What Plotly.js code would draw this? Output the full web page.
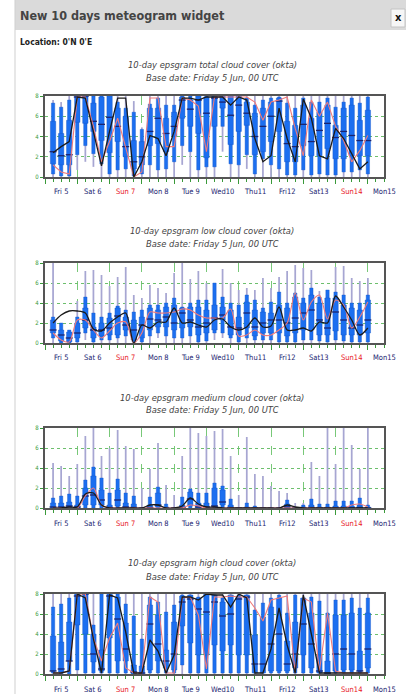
<!DOCTYPE html>
<html>
<head>
<meta charset="utf-8">
<script src="https://cdn.plot.ly/plotly-3.0.1.min.js"></script>
<style>
  html, body { margin: 0; padding: 0; background: #ffffff; }
  #chart { width: 406px; height: 694px; }
</style>
</head>
<body>
<div id="chart"></div>
<script>
// ---------- time axis ----------
const stepHours = [6,12,18,24,30,36,42,48,54,60,66,72,78,84,90,96,102,108,114,120,
                   126,132,138,144,150,156,162,168,174,180,186,192,198,204,210,216,222,228,234,240];
const dayBounds = [0,24,48,72,96,120,144,168,192,216,240];
const dayNoon = [12,36,60,84,108,132,156,180,204,228,252];
const dayLabels = ['Fri 5','Sat 6','Sun 7','Mon 8','Tue 9','Wed10','Thu11','Fri12','Sat13','Sun14','Mon15'];
const sundays = ['Sun 7','Sun14'];

const panelTitles = [
  '10-day epsgram total cloud cover (okta)',
  '10-day epsgram low cloud cover (okta)',
  '10-day epsgram medium cloud cover (okta)',
  '10-day epsgram high cloud cover (okta)'
];
const baseDate = 'Base date: Friday 5 Jun, 00 UTC';
const headerTitle = 'New 10 days meteogram widget';
const locationText = "Location: 0'N 0'E";

// ---------- total cloud cover ----------
const totLo  = [0,0,0,0.7,1.5,1.0,0,0,0,0, 0,0,0,0,0,0,1.2,0,0,0, 0,2.5,0,0,0.8,0,0,0,0,0, 0,0,0,0,0,0,0,0,0,0];
const totP10 = [0.3,0.1,0.1,2.2,3.1,2.3,1.3,0.3,0.7,0.8, 0.1,0.3,1.2,0.7,0.8,1.5,3.1,2.5,0.7,1.0, 1.0,5.0,1.3,1.2,2.2,0.3,1.8,1.2,0.8,0.2, 0.2,0.7,0.2,0.3,0.2,0.2,0.5,0.5,0.7,0.3];
const totP25 = [1.3,1.2,1.2,5.4,5.3,4.5,3.6,2.4,3.5,2.0, 0.8,1.2,3.1,3.3,2.5,4.0,5.8,5.0,4.3,1.9, 5.0,6.8,3.2,4.5,5.1,2.2,2.5,3.5,4.5,1.5, 1.5,3.1,2.1,2.1,2.8,1.8,1.8,2.1,2.1,2.1];
const totMed = [2.5,2.1,2.2,7.9,8.0,5.5,5.2,5.9,5.0,3.0, 1.5,2.0,4.5,5.8,4.3,5.0,7.6,6.7,7.6,6.3, 7.8,7.4,6.1,7.1,6.3,4.0,5.0,6.0,7.5,3.3, 3.0,5.2,3.5,4.6,5.3,3.9,4.5,4.1,3.6,3.6];
const totP75 = [5.5,4.3,5.6,8.0,8.0,7.3,7.9,8.0,6.8,6.0, 3.6,3.5,6.8,6.8,5.8,6.4,7.9,7.6,8.0,7.9, 8.0,8.0,8.0,8.0,7.4,6.3,6.8,7.4,7.8,5.5, 5.1,7.1,5.8,6.4,7.1,5.1,6.8,7.1,5.6,6.6];
const totP90 = [7.3,6.9,7.6,8.0,8.0,8.0,8.0,8.0,7.4,6.8, 6.4,4.7,7.2,7.8,7.1,7.1,8.0,8.0,8.0,8.0, 8.0,8.0,8.0,8.0,7.8,7.1,7.6,7.8,7.9,7.3, 6.8,7.8,7.4,7.4,7.8,6.9,7.4,7.8,7.3,7.9];
const totHi  = [7.6,7.4,8,8,8,8,8,8,8,8, 7.5,4.9,8,8,8,8,8,8,8,8, 8,8,8,8,8,8,8,8,8,8, 8,8,8,8,8,8,8,8,8,8];
const totCtrl= [2.4,3.0,3.5,7.9,7.8,4.5,1.1,4.5,7.8,7.8, 0.0,1.5,4.1,3.8,2.1,4.5,7.8,7.8,7.6,7.9, 7.9,7.9,7.1,7.9,7.6,3.8,1.5,2.1,6.8,3.8, 1.5,7.7,5.8,2.1,1.8,4.8,3.8,2.3,0.8,1.5];
const totHres= [1.2,0.5,0.3,7.9,7.9,5.0,1.5,3.5,5.8,2.8, 0.0,0.5,7.8,7.8,3.0,3.0,7.8,7.6,7.0,2.5, 7.9,7.9,7.9,7.9,7.9,7.4,5.6,7.4,7.6,7.9, 4.8,2.1,7.6,6.0,7.4,5.0,3.6,1.5,2.6,4.1];

// ---------- low cloud cover ----------
const lowLo  = [0,0,0,0,0.3,0,0,0,0,0, 0,0,0,0.5,0,0,0,0,0,0, 0.3,0.5,0,0,0,0,0,0,0,0, 0,0,0,0,0,0,0,0,0,0];
const lowP10 = [0.5,0,0,0.1,1.0,0.1,0.3,0.3,0.5,0.7, 0.1,0.1,0.7,1.0,0.7,0.5,0.5,0.7,0.1,0.2, 1.0,1.0,0.5,0.1,0.5,0.3,0.3,0.3,0.1,0.1, 0.1,0.3,0.3,0.2,0.1,0.3,0.2,0.1,0.1,0.1];
const lowP25 = [1.0,0.2,0.1,0.5,1.5,0.5,0.7,0.8,0.8,1.3, 0.3,0.5,1.3,1.6,1.6,1.3,1.5,1.6,0.8,1.0, 1.3,2.3,0.8,0.8,1.5,0.7,1.0,1.0,1.0,0.7, 1.0,1.3,1.3,0.8,0.8,1.2,0.8,0.8,0.8,1.0];
const lowMed = [1.3,0.8,0.5,1.0,2.3,1.3,1.3,1.5,2.7,1.8, 1.3,1.8,2.4,2.3,2.6,2.0,3.0,2.3,1.6,2.0, 2.5,2.8,1.6,1.5,3.0,1.6,2.0,2.3,2.3,2.0, 2.5,3.0,3.3,2.3,1.5,3.1,2.3,1.5,1.8,2.3];
const lowP75 = [2.3,1.3,1.1,2.0,3.5,1.6,2.0,2.5,3.5,2.6, 2.3,2.6,3.5,3.3,3.6,3.8,3.5,3.6,3.6,3.3, 3.8,3.6,3.3,2.6,4.1,3.3,3.1,3.0,3.8,3.5, 4.6,4.0,4.8,4.0,4.5,4.5,3.8,3.5,3.3,4.3];
const lowP90 = [2.6,2.0,1.3,2.6,4.6,3.0,2.6,3.0,3.7,3.3, 3.1,3.3,3.8,3.8,4.0,4.5,3.6,4.0,4.3,4.3, 6.0,4.6,4.0,3.8,4.8,4.3,3.5,4.1,5.1,4.0, 5.0,4.5,5.5,4.6,5.3,5.1,4.8,4.0,4.0,4.8];
const lowHi  = [8.0,2.0,1.3,4.2,7.2,7.3,6.8,5.7,6.6,7.6, 4.8,4.5,5.8,5.5,5.0,7.0,8.0,6.4,7.2,6.0, 6.0,7.4,6.0,5.3,5.5,5.3,6.5,5.5,6.6,7.2, 7.8,7.5,7.3,5.2,5.3,7.6,7.7,6.5,6.2,6.5];
const lowCtrl= [2.0,2.8,3.2,3.2,3.0,1.4,1.2,2.0,2.6,3.0, 0.0,1.8,1.5,2.1,2.1,3.5,2.0,2.1,1.8,1.6, 2.3,2.4,1.6,1.3,1.6,2.5,1.6,1.7,3.6,1.3, 1.3,1.5,1.2,2.1,2.0,4.7,3.6,2.3,0.8,1.5];
const lowHres= [1.0,0.3,0.1,2.3,2.3,1.3,0.5,1.2,2.0,2.1, 0.0,1.0,3.1,3.0,3.0,3.1,3.4,3.3,2.8,2.5, 2.5,2.5,3.4,0.7,0.8,1.3,0.8,0.8,1.3,2.0, 5.0,2.3,4.1,4.8,2.4,4.3,3.8,1.5,2.6,4.1];

// ---------- medium cloud cover ----------
const medLo  = [0,0,0,0,0,0,0,0,0,0, 0,0,0,0,0,0,0,0,0,0, 0,0,0,0,0,0,0,0,0,0, 0,0,0,0,0,0,0,0,0,0];
const medP10 = [0,0,0,0,0,0,0,0,0,0, 0,0,0,0,0,0,0,0,0,0, 0,0,0,0,0,0,0,0,0,0, 0,0,0,0,0,0,0,0,0,0];
const medP25 = [0,0,0,0,0.3,0.3,0.3,0,0.2,0, 0,0,0,0.1,0,0,0,0.2,0,0, 0.1,0.3,0,0,0,0,0,0,0,0, 0,0,0,0,0,0,0,0,0,0];
const medMed = [0.1,0.1,0.2,0.1,1.2,1.3,0.8,0.05,0.8,0.1, 0.05,0,0.05,0.3,0,0,0.05,0.9,0.1,0.1, 0.2,0.6,0.05,0,0,0,0,0,0,0.1, 0,0,0.05,0,0,0,0,0,0.05,0];
const medP75 = [0.5,0.5,0.6,0.3,2.0,3.2,1.8,0.3,1.8,0.5, 0.4,0,0.3,1.5,0.1,0,0.3,1.6,0.5,0.5, 2.0,1.8,0.3,0,0.1,0,0,0,0,0.4, 0,0.1,0.3,0.1,0.1,0.2,0.2,0.2,0.3,0.1];
const medP90 = [1.0,1.2,1.4,1.2,2.8,4.1,3.0,1.5,2.9,1.5, 1.2,0.05,1.1,2.1,0.4,0.05,1.1,1.9,1.5,1.5, 2.5,2.2,0.9,0.05,0.5,0.2,0.05,0.05,0.05,0.8, 0.05,0.3,0.9,0.4,0.4,0.7,0.7,0.7,1.0,0.3];
const medHi  = [4.5,4.2,3.2,4.4,7.2,8.0,5.2,6.0,7.8,6.2, 5.9,2.0,3.9,6.5,2.3,1.3,5.2,8.0,7.5,7.2, 7.7,7.9,5.2,1.3,7.1,3.4,3.2,2.2,1.7,1.5, 0.5,0.5,4.6,3.2,8.0,4.4,8.0,6.3,3.9,8.0];
const medCtrl= [0,0,0.1,0.1,1.4,1.5,0.3,0,0,0, 0,0,0.3,0.3,0,0,0.2,1.0,0.4,0.1, 0.1,0,0,0,0,0,0,0,0,0.3, 0.1,0,0,0,0,0,0,0,0,0];
const medHres= [0,0,0,0,1.2,2.0,0.3,0,0,0, 0,0,0,0,0,0,0,0.3,0.2,0, 0,0,0,0,0,0,0,0,0,0, 0,0,0,0,0,0,0,0.3,0.4,0.1];

// ---------- high cloud cover ----------
const higLo  = [0,0,0,0,0,0,0,0,0,0, 0,0,0,0,0,0,0,0,0,0, 0,0,0,0,0,0,0,0,0,0, 0,0,0,0,0,0,0,0,0,0];
const higP10 = [0.1,0,0,0.4,0.1,0.1,0.1,0.1,0.1,0.1, 0,0,0.1,0.1,0.1,0.1,0.9,0.1,0.1,0.1, 0.1,0.1,0.1,0.1,0.1,0.1,0.1,0.1,0.1,0.1, 0.1,0.1,0.1,0.1,0.1,0.1,0.1,0.1,0.1,0.1];
const higP25 = [0.3,0.2,1.3,4.9,4.0,1.2,0.3,3.6,1.3,1.3, 0,0,0.4,1.3,0.6,0.4,4.8,3.1,1.9,1.9, 2.9,2.3,2.9,1.9,1.9,0.1,0.1,0.3,0.3,0.3, 0.6,1.9,0.6,0.1,0,0.3,0.4,0.4,0.3,0.6];
const higMed = [0.3,0.5,1.3,7.8,8.0,2.0,0.5,7.8,5.5,2.5, 0.2,0.1,5.0,3.0,1.3,2.0,7.2,7.5,6.5,6.2, 7.2,5.8,6.0,7.5,7.7,1.0,1.0,3.0,4.0,1.0, 2.0,5.0,3.0,0.3,0.1,2.0,2.5,2.0,0.3,2.5];
const higP75 = [3.8,3.2,5.2,8.0,8.0,4.0,2.4,8.0,7.7,5.1, 0.9,0.8,6.9,5.9,2.4,5.2,7.8,7.9,7.6,8.0, 7.9,7.2,7.9,7.7,7.9,3.9,5.7,6.7,7.6,3.3, 5.2,7.6,6.1,1.9,1.3,5.9,5.9,6.1,2.3,6.1];
const higP90 = [6.7,7.0,7.6,8.0,8.0,4.9,8.0,8.0,8.0,7.0, 5.8,3.5,7.7,7.2,6.2,6.9,7.9,7.9,7.7,8.0, 7.9,7.6,7.9,7.9,7.9,6.4,7.1,7.6,7.9,6.1, 7.9,7.6,7.7,7.3,6.1,7.4,7.4,7.6,6.6,7.6];
const higHi  = [8,8,8,8,8,8,8,8,8,8, 8,8,8,8,8,8,8,8,8,8, 8,8,8,8,8,8,8,8,8,8, 8,8,8,8,8,8,8,8,8,8];
const higCtrl= [0.1,0.1,0.3,8.0,7.6,3.5,0.1,7.9,7.6,4.2, 0.1,0.1,3.4,2.3,0.1,1.9,7.7,7.7,7.4,8.0, 7.9,7.9,6.7,8.0,7.6,0.1,0.1,2.5,6.6,2.9, 0.1,7.9,4.0,0.1,0.1,0.1,0.1,0.1,0.1,0.1];
const higHres= [0.1,0.1,0.3,8.0,8.0,3.6,1.3,3.6,5.1,0.6, 0.1,0.1,7.7,7.2,0.1,0.1,7.6,7.7,5.9,0.5, 7.7,7.7,7.8,7.7,7.7,6.6,5.3,7.4,7.6,7.8, 0.1,7.6,7.2,0.3,6.1,0.3,0.1,0.1,0.1,0.1];

// ---------- styling ----------
const W = 406, H = 694;
const GREEN = '#3a9a3a';
const GRID_H = '#6dbf6d';
const GRID_V = '#78c878';
const BLUE = '#1c6ff0';
const BLUE_EDGE = '#1357c8';
const WHISK = '#a7a6d2';
const NAVY = '#1a2470';
const FONT = '"DejaVu Sans Condensed", "Liberation Sans", sans-serif';

const panels = [
  {lo: totLo, p10: totP10, p25: totP25, med: totMed, p75: totP75, p90: totP90, hi: totHi, ctrl: totCtrl, hres: totHres, shape: 'linear', top: 96, bot: 177, t1: 65, t2: 78},
  {lo: lowLo, p10: lowP10, p25: lowP25, med: lowMed, p75: lowP75, p90: lowP90, hi: lowHi, ctrl: lowCtrl, hres: lowHres, shape: 'spline', top: 263, bot: 343, t1: 231, t2: 244},
  {lo: medLo, p10: medP10, p25: medP25, med: medMed, p75: medP75, p90: medP90, hi: medHi, ctrl: medCtrl, hres: medHres, shape: 'spline', top: 428, bot: 508, t1: 397, t2: 409},
  {lo: higLo, p10: higP10, p25: higP25, med: higMed, p75: higP75, p90: higP90, hi: higHi, ctrl: higCtrl, hres: higHres, shape: 'linear', top: 594, bot: 674, t1: 562, t2: 576}
];

const diff = (a, b) => a.map((v, i) => Math.max(v - b[i], 0.04));
const py = px => 1 - px / H;
const pxx = px => px / W;

const traces = [];
const layout = {
  width: W, height: H,
  margin: {l: 0, r: 0, t: 0, b: 0},
  paper_bgcolor: '#ffffff',
  plot_bgcolor: '#ffffff',
  showlegend: false,
  barmode: 'overlay',
  font: {family: FONT, color: '#333'},
  annotations: [],
  shapes: []
};

panels.forEach((p, k) => {
  const n = k + 1;
  const xa = n === 1 ? 'x' : 'x' + n;
  const ya = n === 1 ? 'y' : 'y' + n;
  traces.push({type: 'bar', x: stepHours, base: p.lo, y: diff(p.hi, p.lo), width: 1.3,
    xaxis: xa, yaxis: ya, marker: {color: WHISK, line: {width: 0}}, hoverinfo: 'skip'});
  traces.push({type: 'bar', x: stepHours, base: p.p10, y: diff(p.p90, p.p10), width: 2.5,
    xaxis: xa, yaxis: ya, marker: {color: BLUE, line: {color: BLUE_EDGE, width: 0.4}}, hoverinfo: 'skip'});
  traces.push({type: 'bar', x: stepHours, base: p.p25, y: diff(p.p75, p.p25), width: 4.0,
    xaxis: xa, yaxis: ya, marker: {color: BLUE, line: {color: BLUE_EDGE, width: 0.4}}, hoverinfo: 'skip'});
  traces.push({type: 'scatter', mode: 'markers', x: stepHours, y: p.med, xaxis: xa, yaxis: ya,
    marker: {symbol: 'line-ew', size: 5, line: {color: NAVY, width: 1.3}}, hoverinfo: 'skip'});
  traces.push({type: 'scatter', mode: 'lines', x: stepHours, y: p.hres, xaxis: xa, yaxis: ya,
    line: {color: '#f07a7a', width: 1.1, shape: p.shape, smoothing: 0.8}, hoverinfo: 'skip'});
  traces.push({type: 'scatter', mode: 'lines', x: stepHours, y: p.ctrl, xaxis: xa, yaxis: ya,
    line: {color: '#1b1b1b', width: 1.3, shape: p.shape, smoothing: 0.8}, hoverinfo: 'skip'});

  const xdom = [pxx(45), pxx(384)];
  const ydom = [py(p.bot), py(p.top)];
  layout['xaxis' + (n === 1 ? '' : n)] = {
    domain: xdom, anchor: ya, range: [0, 252], fixedrange: true,
    tickmode: 'array', tickvals: dayBounds, ticktext: dayBounds.map(() => ''),
    ticks: 'outside', ticklen: 5, tickcolor: GREEN, tickwidth: 1,
    showgrid: true, gridcolor: GRID_V, griddash: 'dash', gridwidth: 1,
    minor: {tick0: 0, dtick: 6, ticks: 'outside', ticklen: 3, tickcolor: GREEN, tickwidth: 1, showgrid: false},
    showline: true, linecolor: '#555', linewidth: 2, mirror: true, zeroline: false
  };
  layout['yaxis' + (n === 1 ? '' : n)] = {
    domain: ydom, anchor: xa, range: [0, 8], fixedrange: true,
    tickmode: 'array', tickvals: [0, 2, 4, 6, 8],
    tickfont: {family: FONT, size: 6, color: GREEN},
    ticks: 'outside', ticklen: 3, tickcolor: GREEN,
    showgrid: true, gridcolor: GRID_H, griddash: 'dot', gridwidth: 1,
    showline: true, linecolor: '#555', linewidth: 2, mirror: true, zeroline: false
  };
  // day labels at noon, placed with the panel's own x scale
  dayLabels.forEach((lab, j) => {
    layout.annotations.push({xref: xa, yref: 'paper', x: dayNoon[j], y: py(p.bot + 15), showarrow: false,
      text: lab, font: {family: FONT, size: 7.5, color: sundays.includes(lab) ? '#e8141e' : NAVY},
      xanchor: 'center', yanchor: 'middle'});
  });
  layout.annotations.push({xref: 'paper', yref: 'paper', x: pxx(212), y: py(p.t1), showarrow: false,
    text: '<i>' + panelTitles[k] + '</i>', font: {family: FONT, size: 9.3, color: '#444'}, xanchor: 'center', yanchor: 'middle'});
  layout.annotations.push({xref: 'paper', yref: 'paper', x: pxx(212), y: py(p.t2), showarrow: false,
    text: '<i>' + baseDate + '</i>', font: {family: FONT, size: 9.3, color: '#444'}, xanchor: 'center', yanchor: 'middle'});
});

// widget frame
layout.shapes.push({type: 'rect', xref: 'paper', yref: 'paper', x0: pxx(15), x1: 1, y0: py(30), y1: 1,
  fillcolor: '#dadada', line: {width: 0}, layer: 'below'});
layout.shapes.push({type: 'line', xref: 'paper', yref: 'paper', x0: pxx(15), x1: pxx(15), y0: 0, y1: 1,
  line: {color: '#cfcfcf', width: 1}});
layout.shapes.push({type: 'rect', xref: 'paper', yref: 'paper', x0: pxx(391), x1: pxx(405), y0: py(27), y1: py(9),
  fillcolor: '#f6f6f6', line: {color: '#c4c4c4', width: 1}});
layout.annotations.push({xref: 'paper', yref: 'paper', x: pxx(398), y: py(17.5), showarrow: false,
  text: '<b>x</b>', font: {family: FONT, size: 11, color: '#111'}, xanchor: 'center', yanchor: 'middle'});
layout.annotations.push({xref: 'paper', yref: 'paper', x: pxx(18), y: py(16), showarrow: false,
  text: '<b>' + headerTitle + '</b>', font: {family: FONT, size: 12.5, color: '#444'}, xanchor: 'left', yanchor: 'middle'});
layout.annotations.push({xref: 'paper', yref: 'paper', x: pxx(18), y: py(42), showarrow: false,
  text: '<b>' + locationText + '</b>', font: {family: FONT, size: 8.5, color: '#222'}, xanchor: 'left', yanchor: 'middle'});

Plotly.newPlot('chart', traces, layout, {staticPlot: true, displayModeBar: false});
</script>
</body>
</html>
